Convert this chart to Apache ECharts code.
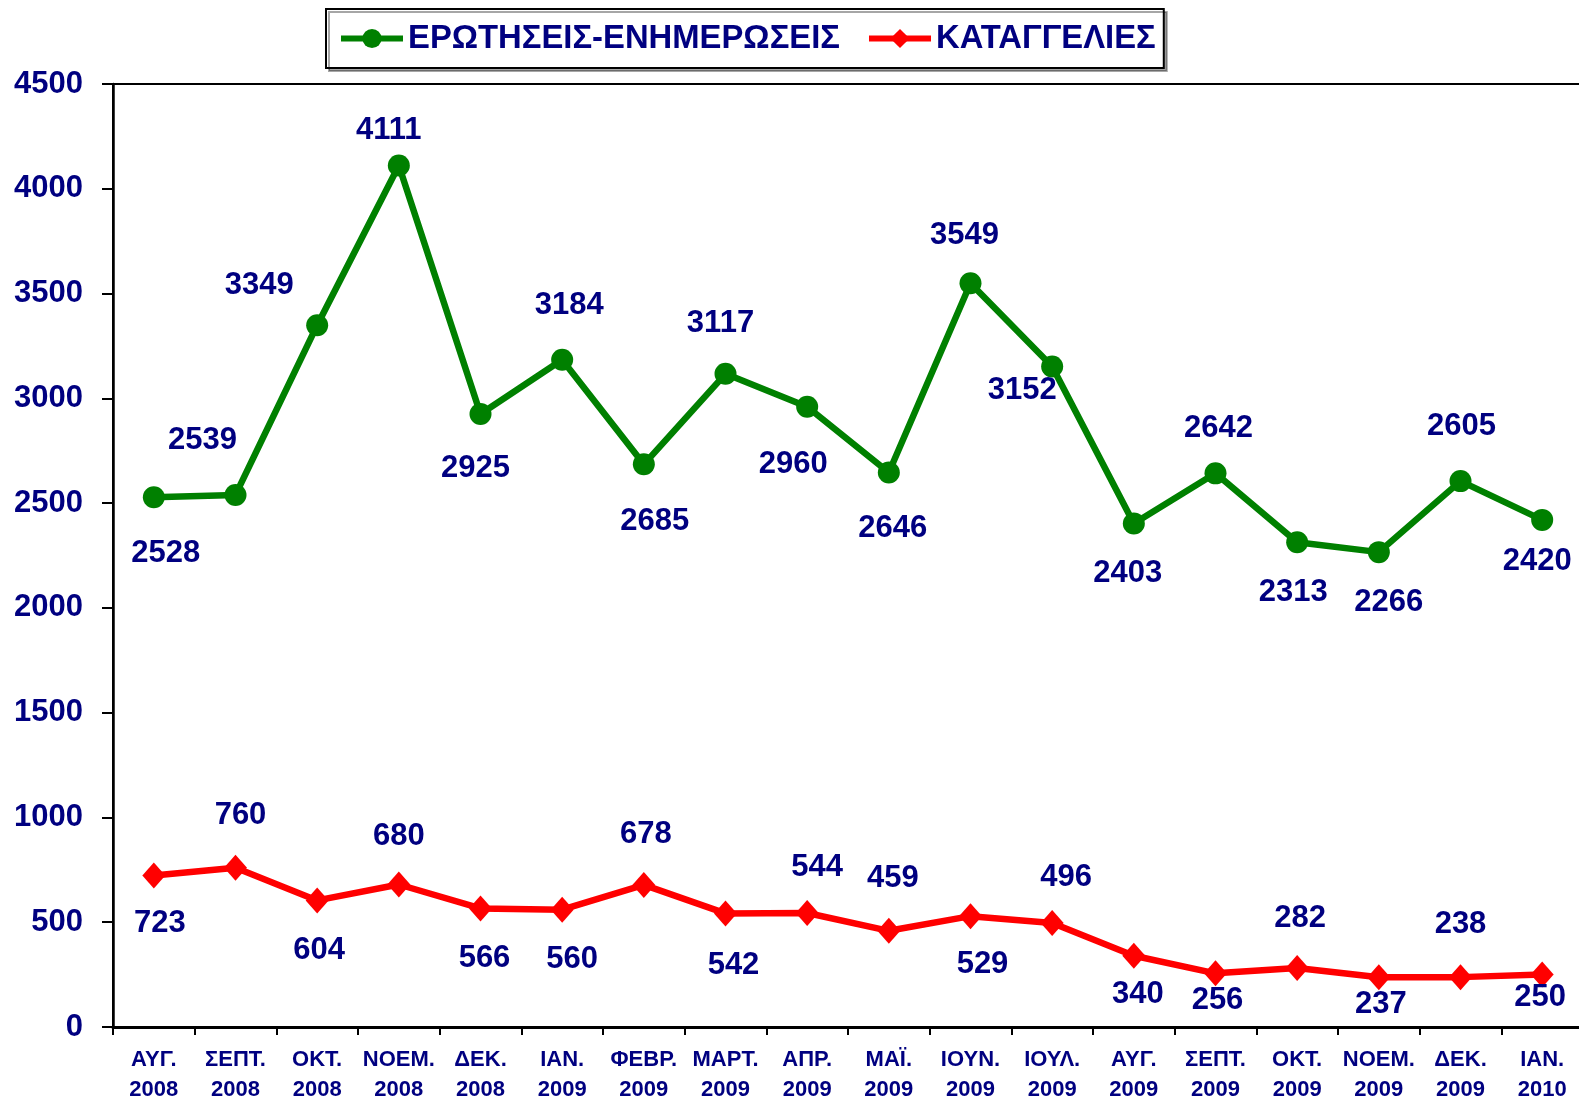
<!DOCTYPE html>
<html>
<head>
<meta charset="utf-8">
<script src="https://cdn.jsdelivr.net/npm/echarts@6/dist/echarts.min.js"></script>
<style>
html,body{margin:0;padding:0;background:#fff;}
#chart{width:1579px;height:1101px;}
</style>
</head>
<body>
<div id="chart"></div>
<script>
const months = ['ΑΥΓ.','ΣΕΠΤ.','ΟΚΤ.','ΝΟΕΜ.','ΔΕΚ.','ΙΑΝ.','ΦΕΒΡ.','ΜΑΡΤ.','ΑΠΡ.','ΜΑΪ.','ΙΟΥΝ.','ΙΟΥΛ.','ΑΥΓ.','ΣΕΠΤ.','ΟΚΤ.','ΝΟΕΜ.','ΔΕΚ.','ΙΑΝ.'];
const years = ['2008','2008','2008','2008','2008','2009','2009','2009','2009','2009','2009','2009','2009','2009','2009','2009','2009','2010'];
const seriesNames = ['ΕΡΩΤΗΣΕΙΣ-ΕΝΗΜΕΡΩΣΕΙΣ','ΚΑΤΑΓΓΕΛΙΕΣ'];
const questions = [2528,2539,3349,4111,2925,3184,2685,3117,2960,2646,3549,3152,2403,2642,2313,2266,2605,2420];
const complaints = [723,760,604,680,566,560,678,542,544,459,529,496,340,256,282,237,238,250];
const yTicks = {min:0, max:4500, interval:500};

// label placement (style only)
const qOffsets = [[12,56],[-33,-54],[-58,-40],[-10,-35],[-5,54],[7,-54],[11,57],[-5,-50],[-14,58],[4,56],[-6,-48],[-30,24],[-6,50],[3,-45],[-4,50],[10,50],[1,-55],[-5,42]];
const cOffsets = [[6,48],[5,-52],[2,50],[0,-48],[4,50],[10,50],[2,-50],[8,52],[10,-46],[4,-52],[12,48],[14,-46],[4,39],[2,27],[3,-49],[2,27],[0,-53],[-2,23]];

const navy = '#000080';
const font = '"Liberation Sans", Arial, sans-serif';
const categories = months.map((m,i)=>m+'\n'+years[i]);

function build(vals, offs){
  return vals.map((v,i)=>({value:v, label:{offset:offs[i]}}));
}
const labelStyle = {show:true, position:'inside', color:navy, fontFamily:font, fontWeight:'bold', fontSize:31, align:'center', verticalAlign:'middle'};

const chart = echarts.init(document.getElementById('chart'), null, {renderer:'canvas'});
chart.setOption({
  animation:false,
  backgroundColor:'#fff',
  legend:{
    left:326, top:9,
    padding:[13,8,13,12],
    itemGap:26, itemWidth:62, itemHeight:24,
    borderColor:'#000', borderWidth:2, backgroundColor:'#fff',
    shadowColor:'rgba(0,0,0,0.35)', shadowOffsetX:3, shadowOffsetY:3, shadowBlur:0,
    lineStyle:{width:6},
    textStyle:{color:navy, fontFamily:font, fontWeight:'bold', fontSize:32.8},
    data:seriesNames
  },
  grid:{left:113, right:-4, top:84, bottom:74, show:true, borderColor:'#000', borderWidth:2, backgroundColor:'transparent', outerBoundsMode:'none', containLabel:false},
  xAxis:{
    type:'category', data:categories, boundaryGap:true,
    axisLine:{lineStyle:{color:'#000', width:3}},
    axisTick:{show:true, alignWithLabel:false, interval:0, length:8, lineStyle:{color:'#000', width:2}},
    axisLabel:{interval:0, margin:18, color:navy, fontFamily:font, fontWeight:'bold', fontSize:22, lineHeight:30},
    splitLine:{show:false}
  },
  yAxis:{
    type:'value', min:yTicks.min, max:yTicks.max, interval:yTicks.interval,
    axisLine:{show:true, lineStyle:{color:'#000', width:2.5}},
    axisTick:{show:true, length:11, lineStyle:{color:'#000', width:2}},
    axisLabel:{margin:30, color:navy, fontFamily:font, fontWeight:'bold', fontSize:31, formatter:(v)=>String(v)},
    splitLine:{show:false}
  },
  series:[
    {
      name:seriesNames[0], type:'line', data:build(questions,qOffsets),
      symbol:'circle', symbolSize:22,
      lineStyle:{color:'#008000', width:6.5},
      itemStyle:{color:'#008000'},
      label:labelStyle, z:3
    },
    {
      name:seriesNames[1], type:'line', data:build(complaints,cOffsets),
      symbol:'diamond', symbolSize:[23,26],
      lineStyle:{color:'#ff0000', width:6.5},
      itemStyle:{color:'#ff0000'},
      label:labelStyle, z:3
    }
  ]
});
</script>
</body>
</html>
